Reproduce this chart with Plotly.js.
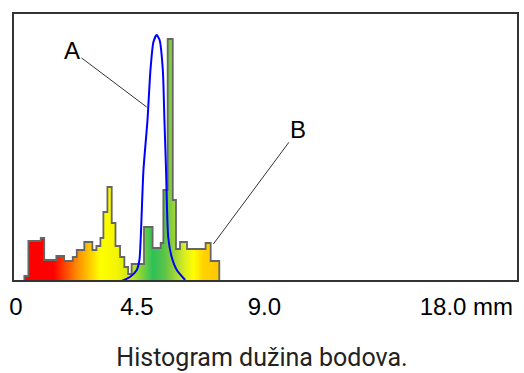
<!DOCTYPE html>
<html>
<head>
<meta charset="utf-8">
<script src="https://cdn.plot.ly/plotly-3.0.1.min.js"></script>
<style>html,body{margin:0;padding:0;background:#fff;}#chart{width:524px;height:373px;}</style>
</head>
<body>
<div id="chart"></div>
<script>
// Histogram bin edges (mm) and bin heights (relative counts)
const binEdges = [0.31,0.46,0.92,1.05,1.50,1.79,2.11,2.26,2.54,2.84,2.99,3.14,3.25,3.40,3.56,3.70,3.87,4.03,4.17,4.30,4.76,5.08,5.38,5.48,5.64,5.83,5.95,6.10,6.36,7.05,7.24,7.56];
const binCounts = [5,40,43,21,25,20,24,31,39,31,35,43,69,94,58,35,24,14,7,17,54,33,38,91,242,81,32,39,32,38,20];

// Curve "A"
const curveX = [3.93,4.24,4.49,4.59,4.64,4.74,4.89,5.00,5.11,5.23,5.34,5.46,5.52,5.58,5.66,5.79,5.98,6.29];
const curveY = [0,4,11,21,44,111,161,211,239,246,241,211,161,111,44,24,11,1];

// Axis ticks
const tickPositions = [0, 4.5, 9.24, 16.75];
const tickLabels = ['0', '4.5', '9.0', '18.0 mm'];

// Label pointers
const labelNames = ['A', 'B'];
const labelTargetX = [4.86, 7.34];
const labelTargetY = [174, 37];

// Build step outline
const stepX = [binEdges[0]];
const stepY = [0];
for (let i = 0; i < binCounts.length; i++) { stepX.push(binEdges[i]); stepY.push(binCounts[i]); }
stepX.push(binEdges[binEdges.length - 1]); stepY.push(0);

const histTrace = {
  x: stepX, y: stepY, type: 'scatter', mode: 'lines',
  line: {shape: 'hv', color: '#666666', width: 1.8},
  fill: 'tozeroy',
  fillgradient: {
    type: 'horizontal',
    start: binEdges[0], stop: binEdges[binEdges.length - 1],
    colorscale: [
      [0.0, '#ff0000'], [0.15, '#ff0000'], [0.27, '#ff8c00'], [0.39, '#ffff00'],
      [0.47, '#f5f500'], [0.55, '#c8e61e'], [0.66, '#2dc05a'], [0.72, '#5cc448'],
      [0.76, '#8ed03c'], [0.82, '#d8ec20'], [0.87, '#ffff00'], [0.92, '#ffd200'], [1.0, '#ffc800']
    ]
  },
  hoverinfo: 'skip'
};

const curveTrace = {
  x: curveX, y: curveY, type: 'scatter', mode: 'lines',
  line: {shape: 'spline', smoothing: 0.6, color: '#0000ff', width: 2},
  hoverinfo: 'skip'
};

const annOffsets = [[-74.7, -56.3], [85, -114.5]];
const annotations = labelNames.map((t, i) => ({
  x: labelTargetX[i], y: labelTargetY[i], xref: 'x', yref: 'y',
  text: t, showarrow: true, arrowhead: 0, arrowwidth: 1, arrowcolor: '#333',
  ax: annOffsets[i][0], ay: annOffsets[i][1],
  font: {family: 'Liberation Sans, Arial', size: 24, color: '#000'}
}));

const layout = {
  width: 524, height: 373,
  margin: {l: 13, r: 6, t: 13, b: 92, pad: 0},
  paper_bgcolor: '#fff', plot_bgcolor: '#fff',
  showlegend: false,
  title: {text: 'Histogram dužina bodova.', font: {family: 'Roboto', size: 25, color: '#222'},
          xref: 'container', yref: 'container', x: 0.5, y: 0.043, xanchor: 'center', yanchor: 'middle'},
  xaxis: {
    range: [-0.1116, 18.669], showgrid: false, zeroline: false, showline: false,
    tickmode: 'array', tickvals: tickPositions, ticktext: tickLabels, ticks: '',
    tickfont: {family: 'Liberation Sans, Arial', size: 24, color: '#000'},
    ticklabelstandoff: 9, fixedrange: true
  },
  yaxis: {range: [0, 268], showgrid: false, zeroline: false, showline: false, showticklabels: false, ticks: '', fixedrange: true},
  shapes: [{type: 'rect', xref: 'paper', yref: 'paper', x0: 0, x1: 1, y0: 0, y1: 1, line: {color: '#333', width: 2}, layer: 'above'}],
  annotations: annotations
};

Plotly.newPlot('chart', [histTrace, curveTrace], layout, {displayModeBar: false, staticPlot: true});
</script>
</body>
</html>
